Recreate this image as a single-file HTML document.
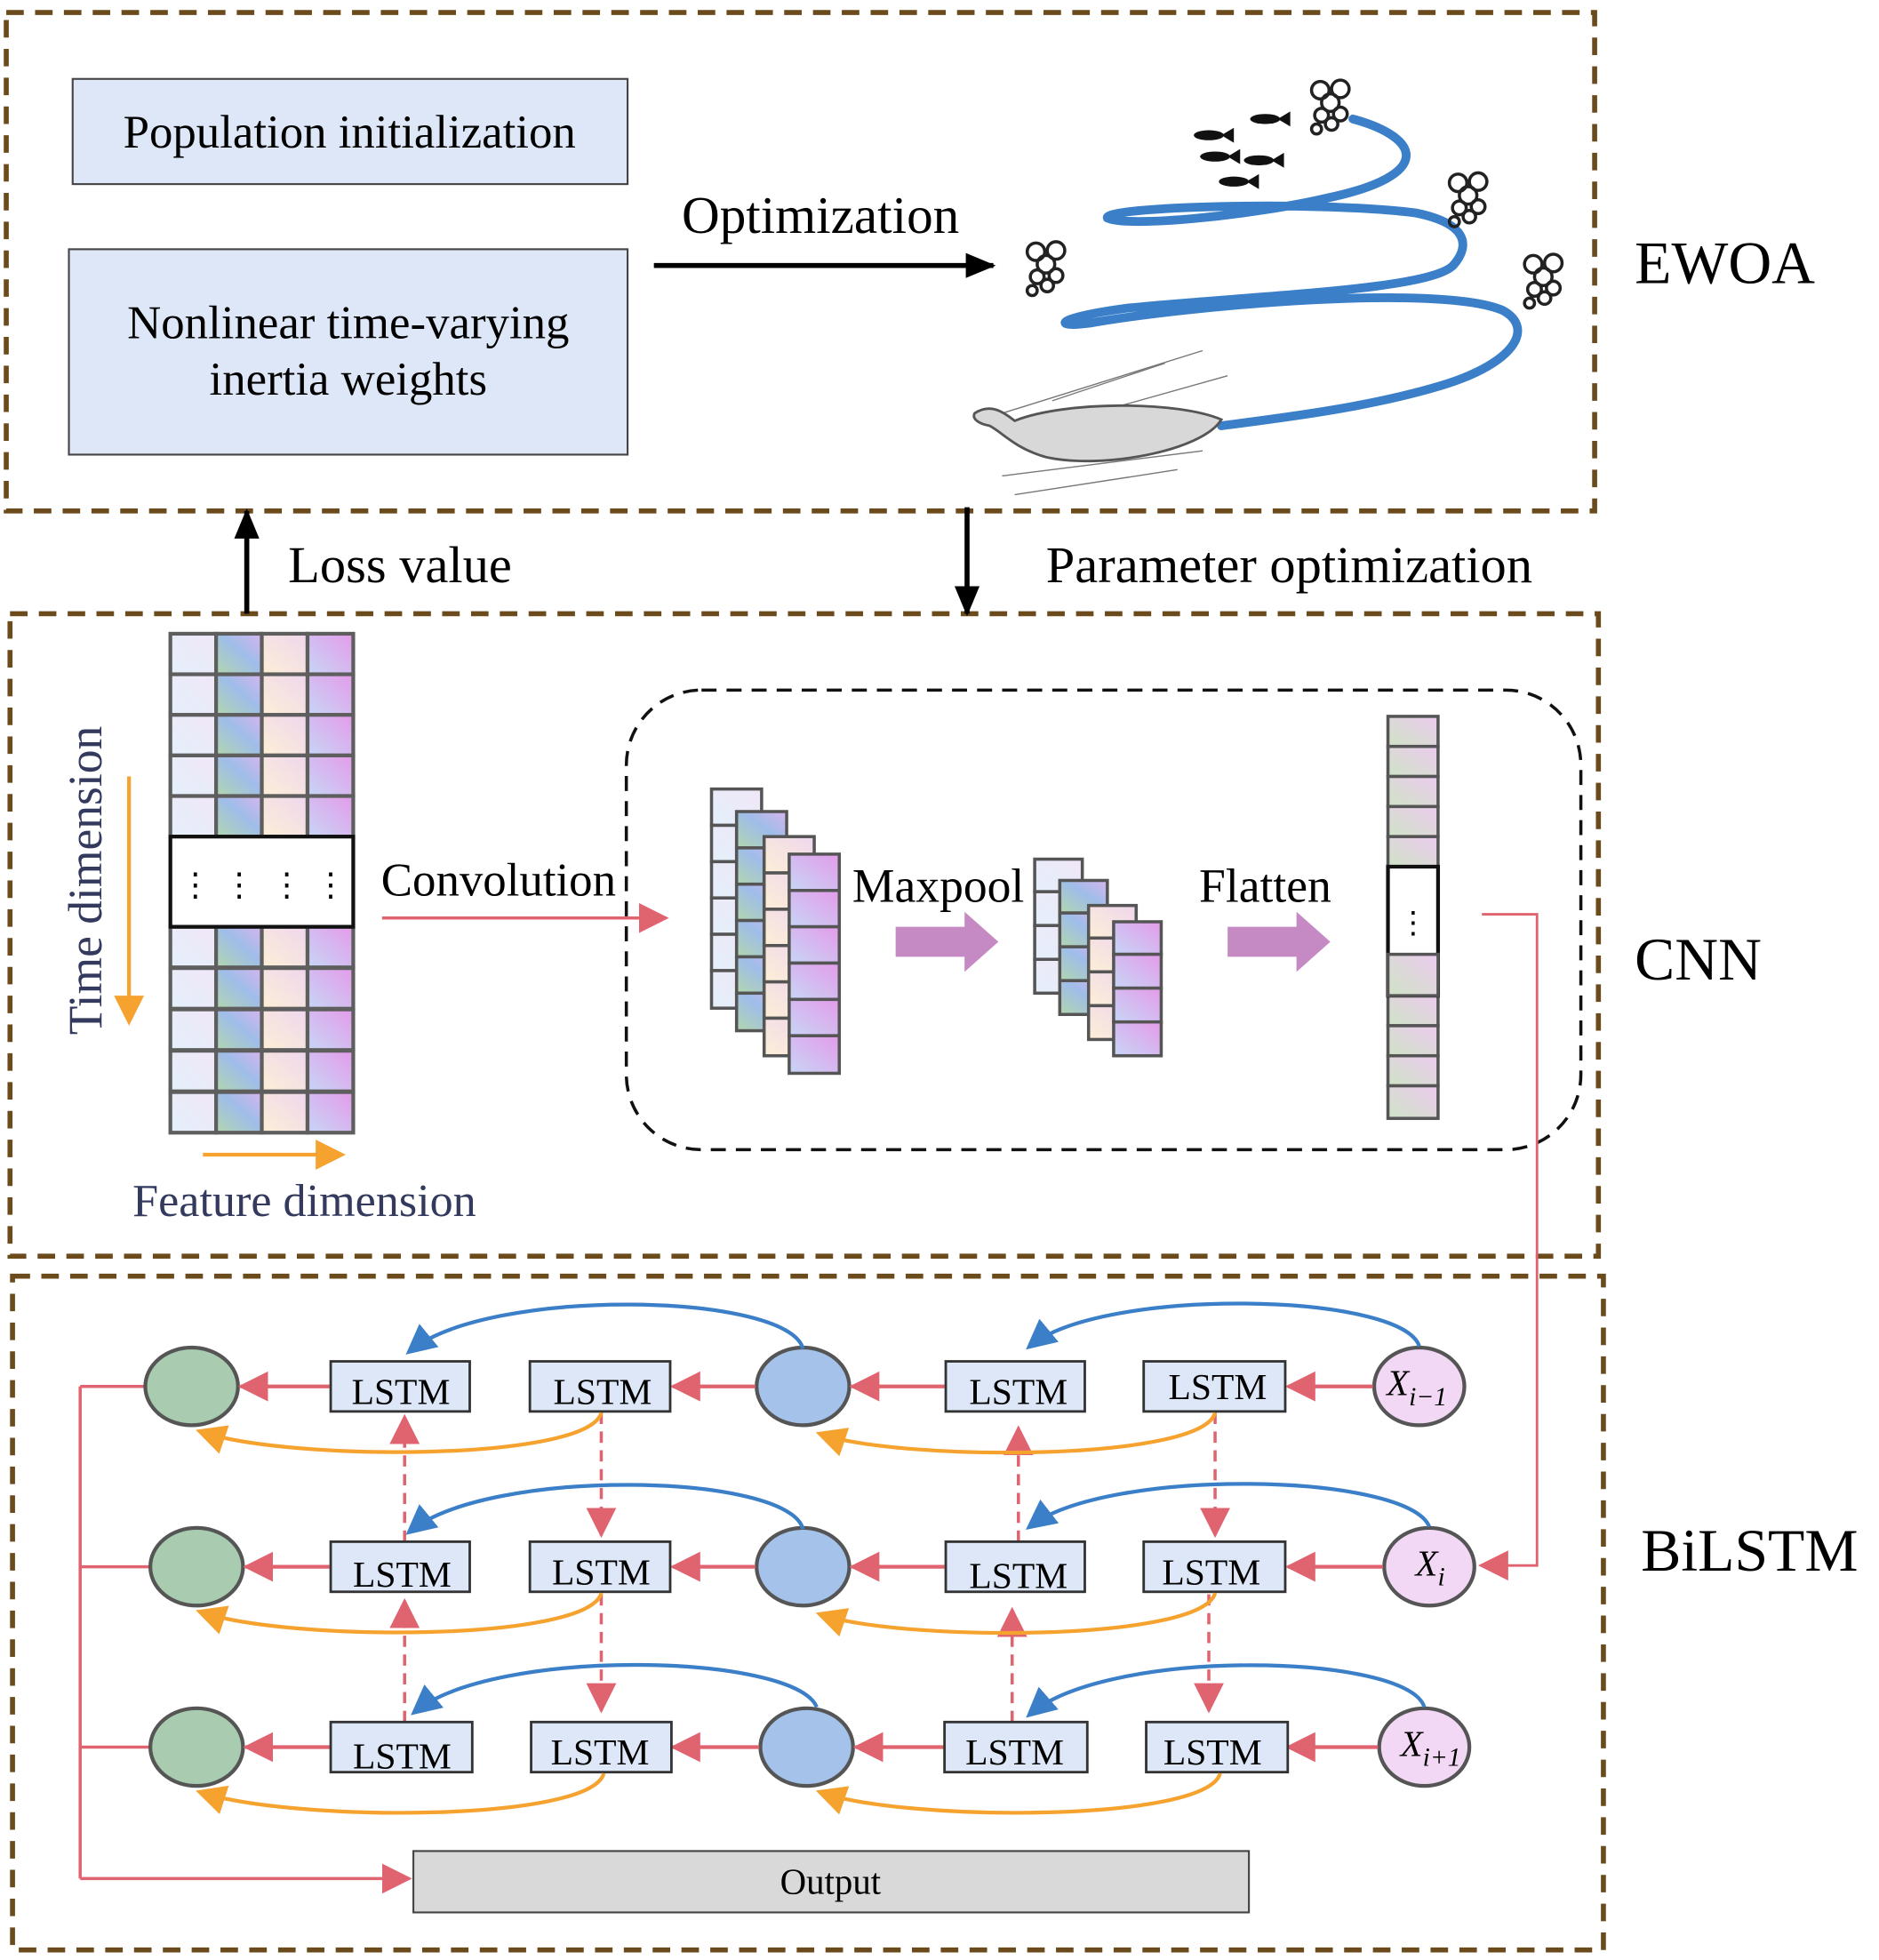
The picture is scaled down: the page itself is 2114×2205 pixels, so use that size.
<!DOCTYPE html>
<html><head><meta charset="utf-8"><style>html,body{margin:0;padding:0;background:#fff}svg{display:block}</style></head>
<body>
<svg xmlns="http://www.w3.org/2000/svg" width="2114" height="2205" viewBox="0 0 1500 1565" preserveAspectRatio="none" font-family="'Liberation Serif', serif">
<defs>
<linearGradient id="g1" x1="0" y1="1" x2="1" y2="0"><stop offset="0" stop-color="#e3f0fb"/><stop offset="1" stop-color="#f1e6f7"/></linearGradient>
<linearGradient id="g2" x1="0" y1="1" x2="1" y2="0"><stop offset="0" stop-color="#b2d6ae"/><stop offset=".55" stop-color="#9fbde9"/><stop offset="1" stop-color="#d6b5ee"/></linearGradient>
<linearGradient id="g3" x1="0" y1="1" x2="1" y2="0"><stop offset="0" stop-color="#fcefd6"/><stop offset="1" stop-color="#efd6ee"/></linearGradient>
<linearGradient id="g4" x1="0" y1="1" x2="1" y2="0"><stop offset="0" stop-color="#c7d6f6"/><stop offset="1" stop-color="#e49be9"/></linearGradient>
<linearGradient id="g5" x1="0" y1="1" x2="1" y2="0"><stop offset="0" stop-color="#cfe3c6"/><stop offset="1" stop-color="#eccbef"/></linearGradient>
<marker id="ar" markerUnits="userSpaceOnUse" markerWidth="26" markerHeight="24" refX="22" refY="12" orient="auto"><path d="M0,0 L24,12 L0,24 z" fill="#e06470"/></marker>
<marker id="ab" markerUnits="userSpaceOnUse" markerWidth="26" markerHeight="24" refX="22" refY="12" orient="auto"><path d="M0,2 L24,12 L0,22 z" fill="#000"/></marker>
<marker id="ao" markerUnits="userSpaceOnUse" markerWidth="26" markerHeight="24" refX="20" refY="12" orient="auto"><path d="M0,0 L24,12 L0,24 z" fill="#f5a22f"/></marker>
<marker id="abl" markerUnits="userSpaceOnUse" markerWidth="26" markerHeight="24" refX="20" refY="12" orient="auto"><path d="M0,0 L24,12 L0,24 z" fill="#3a7fc7"/></marker>
<g id="bub" fill="none" stroke="#222" stroke-width="2.5"><circle cx="-8" cy="-14" r="7"/><circle cx="8" cy="-15" r="7"/><circle cx="0" cy="-4" r="7"/><circle cx="-7" cy="6" r="5.5"/><circle cx="8" cy="5" r="5.5"/><circle cx="1" cy="13" r="5"/><circle cx="-11" cy="17" r="4"/></g>
<g id="fish" fill="#111"><ellipse cx="0" cy="0" rx="12" ry="4"/><path d="M10,0 L20,-6 L20,6 z"/></g>
</defs>

<g fill="none" stroke="#6b4a1c" stroke-width="4" stroke-dasharray="14,9">
<rect x="5" y="10" width="1268" height="398"/>
<rect x="8" y="490" width="1268" height="513"/>
<rect x="10" y="1019" width="1270" height="538"/>
</g>

<rect x="58" y="63" width="443" height="84" fill="#dde7f7" stroke="#444" stroke-width="1.5"/>
<text x="279" y="118" font-size="37.5" text-anchor="middle">Population initialization</text>
<rect x="55" y="199" width="446" height="164" fill="#dde7f7" stroke="#444" stroke-width="1.5"/>
<text x="278" y="270" font-size="37.5" text-anchor="middle">Nonlinear time-varying</text>
<text x="278" y="315" font-size="37.5" text-anchor="middle">inertia weights</text>
<text x="655" y="186" font-size="42" text-anchor="middle">Optimization</text>
<line x1="522" y1="212" x2="793" y2="212" stroke="#000" stroke-width="4" marker-end="url(#ab)"/>
<text x="1305" y="226" font-size="48">EWOA</text>

<path d="M1080,95 C1135,110 1145,140 1060,158 C1000,172 900,182 884,174 C880,165 1050,160 1130,170 C1170,178 1175,195 1160,212 C1140,232 1000,236 900,246 C840,254 840,262 870,258 C950,244 1150,226 1200,248 C1225,262 1210,290 1150,308 C1090,326 1020,334 975,340" fill="none" stroke="#3a7fc7" stroke-width="7" stroke-linecap="round"/>
<use href="#bub" x="835" y="215"/>
<use href="#bub" x="1062" y="86"/>
<use href="#bub" x="1172" y="160"/>
<use href="#bub" x="1232" y="225"/>
<use href="#fish" x="965" y="108"/><use href="#fish" x="1010" y="95"/><use href="#fish" x="970" y="125"/><use href="#fish" x="1005" y="128"/><use href="#fish" x="985" y="145"/>
<g stroke="#777" stroke-width="1">
<line x1="800" y1="330" x2="960" y2="280"/><line x1="820" y1="345" x2="980" y2="300"/><line x1="800" y1="380" x2="960" y2="360"/><line x1="810" y1="395" x2="940" y2="375"/><line x1="840" y1="320" x2="930" y2="290"/>
</g>
<path d="M778,330 C790,322 800,328 810,336 C850,320 940,320 975,335 C960,360 880,375 835,365 C810,358 800,345 790,340 C780,338 776,334 778,330 z" fill="#d8d8d8" stroke="#555" stroke-width="2"/>

<line x1="197" y1="490" x2="197" y2="408" stroke="#000" stroke-width="4" marker-end="url(#ab)"/>
<text x="230" y="465" font-size="41.5">Loss value</text>
<line x1="772" y1="405" x2="772" y2="490" stroke="#000" stroke-width="4" marker-end="url(#ab)"/>
<text x="835" y="465" font-size="41.5">Parameter optimization</text>

<g stroke="#5e5e5e" stroke-width="3">
<g id="rowtop">
<rect x="136" y="506" width="36.5" height="32.4" fill="url(#g1)"/><rect x="172.5" y="506" width="36.5" height="32.4" fill="url(#g2)"/><rect x="209" y="506" width="36.5" height="32.4" fill="url(#g3)"/><rect x="245.5" y="506" width="36.5" height="32.4" fill="url(#g4)"/>
</g>
<use href="#rowtop" y="32.4"/><use href="#rowtop" y="64.8"/><use href="#rowtop" y="97.2"/><use href="#rowtop" y="129.6"/>
<use href="#rowtop" y="234"/><use href="#rowtop" y="267"/><use href="#rowtop" y="300"/><use href="#rowtop" y="333"/><use href="#rowtop" y="366"/>
</g>
<rect x="136" y="668" width="146" height="72" fill="#fff" stroke="#111" stroke-width="3"/>
<g font-size="26" text-anchor="middle"><text x="156" y="715">⋮</text><text x="191" y="715">⋮</text><text x="229" y="715">⋮</text><text x="264" y="715">⋮</text></g>
<text transform="translate(81,703) rotate(-90)" font-size="38" fill="#333a5e" text-anchor="middle">Time dimension</text>
<line x1="103" y1="620" x2="103" y2="815" stroke="#f5a22f" stroke-width="3" marker-end="url(#ao)"/>
<line x1="162" y1="922" x2="272" y2="922" stroke="#f5a22f" stroke-width="3" marker-end="url(#ao)"/>
<text x="243" y="971" font-size="37" fill="#333a5e" text-anchor="middle">Feature dimension</text>
<text x="398" y="715" font-size="37.5" text-anchor="middle">Convolution</text>
<line x1="305" y1="733" x2="532" y2="733" stroke="#e06470" stroke-width="2.5" marker-end="url(#ar)"/>
<rect x="500" y="551" width="762" height="367" rx="60" fill="none" stroke="#111" stroke-width="2.5" stroke-dasharray="12,8"/>

<g stroke="#555" stroke-width="2.5">
<g><rect x="568" y="630" width="40" height="29" fill="url(#g1)"/><rect x="568" y="659" width="40" height="29" fill="url(#g1)"/><rect x="568" y="688" width="40" height="29" fill="url(#g1)"/><rect x="568" y="717" width="40" height="29" fill="url(#g1)"/><rect x="568" y="746" width="40" height="29" fill="url(#g1)"/><rect x="568" y="775" width="40" height="30" fill="url(#g1)"/></g>
<g transform="translate(20,18)"><rect x="568" y="630" width="40" height="29" fill="url(#g2)"/><rect x="568" y="659" width="40" height="29" fill="url(#g2)"/><rect x="568" y="688" width="40" height="29" fill="url(#g2)"/><rect x="568" y="717" width="40" height="29" fill="url(#g2)"/><rect x="568" y="746" width="40" height="29" fill="url(#g2)"/><rect x="568" y="775" width="40" height="30" fill="url(#g2)"/></g>
<g transform="translate(42,38)"><rect x="568" y="630" width="40" height="29" fill="url(#g3)"/><rect x="568" y="659" width="40" height="29" fill="url(#g3)"/><rect x="568" y="688" width="40" height="29" fill="url(#g3)"/><rect x="568" y="717" width="40" height="29" fill="url(#g3)"/><rect x="568" y="746" width="40" height="29" fill="url(#g3)"/><rect x="568" y="775" width="40" height="30" fill="url(#g3)"/></g>
<g transform="translate(62,52)"><rect x="568" y="630" width="40" height="29" fill="url(#g4)"/><rect x="568" y="659" width="40" height="29" fill="url(#g4)"/><rect x="568" y="688" width="40" height="29" fill="url(#g4)"/><rect x="568" y="717" width="40" height="29" fill="url(#g4)"/><rect x="568" y="746" width="40" height="29" fill="url(#g4)"/><rect x="568" y="775" width="40" height="30" fill="url(#g4)"/></g>
<g><rect x="826" y="686" width="38" height="26" fill="url(#g1)"/><rect x="826" y="712" width="38" height="27" fill="url(#g1)"/><rect x="826" y="739" width="38" height="27" fill="url(#g1)"/><rect x="826" y="766" width="38" height="27" fill="url(#g1)"/></g>
<g transform="translate(20,17)"><rect x="826" y="686" width="38" height="26" fill="url(#g2)"/><rect x="826" y="712" width="38" height="27" fill="url(#g2)"/><rect x="826" y="739" width="38" height="27" fill="url(#g2)"/><rect x="826" y="766" width="38" height="27" fill="url(#g2)"/></g>
<g transform="translate(43,37)"><rect x="826" y="686" width="38" height="26" fill="url(#g3)"/><rect x="826" y="712" width="38" height="27" fill="url(#g3)"/><rect x="826" y="739" width="38" height="27" fill="url(#g3)"/><rect x="826" y="766" width="38" height="27" fill="url(#g3)"/></g>
<g transform="translate(63,50)"><rect x="826" y="686" width="38" height="26" fill="url(#g4)"/><rect x="826" y="712" width="38" height="27" fill="url(#g4)"/><rect x="826" y="739" width="38" height="27" fill="url(#g4)"/><rect x="826" y="766" width="38" height="27" fill="url(#g4)"/></g>
<g fill="url(#g5)"><rect x="1108" y="572" width="40" height="24"/><rect x="1108" y="596" width="40" height="24"/><rect x="1108" y="620" width="40" height="24"/><rect x="1108" y="644" width="40" height="24"/><rect x="1108" y="668" width="40" height="24"/>
<rect x="1108" y="795" width="40" height="24"/><rect x="1108" y="819" width="40" height="24"/><rect x="1108" y="843" width="40" height="24"/><rect x="1108" y="867" width="40" height="26"/></g>
</g>
<rect x="1108" y="692" width="40" height="103" fill="#fff" stroke="#111" stroke-width="3"/>
<rect x="1108" y="762" width="40" height="33" fill="url(#g5)" stroke="#555" stroke-width="2.5"/>
<text x="1128" y="745" font-size="24" text-anchor="middle">⋮</text>
<text x="749" y="720" font-size="38" text-anchor="middle">Maxpool</text>
<path d="M715,740 L770,740 L770,728 L797,752 L770,776 L770,764 L715,764 z" fill="#c58ac4"/>
<text x="1010" y="720" font-size="38" text-anchor="middle">Flatten</text>
<path d="M980,740 L1035,740 L1035,728 L1062,752 L1035,776 L1035,764 L980,764 z" fill="#c58ac4"/>
<text x="1305" y="782" font-size="48">CNN</text>
<polyline points="1183,730 1227,730 1227,1250 1182,1250" fill="none" stroke="#e06470" stroke-width="2" marker-end="url(#ar)"/>

<text x="1310" y="1254" font-size="48">BiLSTM</text>
<g fill="none" stroke="#e06470" stroke-width="2.5">
<line x1="64" y1="1107" x2="64" y2="1500"/>
<line x1="64" y1="1107" x2="116" y2="1107"/><line x1="64" y1="1251" x2="120" y2="1251"/><line x1="64" y1="1395" x2="120" y2="1395"/>
<line x1="64" y1="1500" x2="327" y2="1500" marker-end="url(#ar)"/>
<g stroke-dasharray="9,6">
<line x1="480" y1="1128" x2="480" y2="1226" marker-end="url(#ar)"/>
<line x1="970" y1="1128" x2="970" y2="1226" marker-end="url(#ar)"/>
<line x1="323" y1="1231" x2="323" y2="1131" marker-end="url(#ar)"/>
<line x1="813" y1="1231" x2="813" y2="1140" marker-end="url(#ar)"/>
<line x1="480" y1="1273" x2="480" y2="1366" marker-end="url(#ar)"/>
<line x1="965" y1="1273" x2="965" y2="1366" marker-end="url(#ar)"/>
<line x1="323" y1="1375" x2="323" y2="1278" marker-end="url(#ar)"/>
<line x1="808" y1="1375" x2="808" y2="1285" marker-end="url(#ar)"/>
</g>
</g>
<rect x="330" y="1478" width="667" height="49" fill="#d9d9d9" stroke="#444" stroke-width="1.5"/>
<text x="663" y="1512" font-size="29" text-anchor="middle">Output</text>

<g transform="translate(0,1107)">
<ellipse cx="153" cy="0" rx="37" ry="31" fill="#a9cbb0" stroke="#555" stroke-width="3"/>
<ellipse cx="641" cy="0" rx="37" ry="31" fill="#a4c2ea" stroke="#555" stroke-width="3"/>
<ellipse cx="1133" cy="0" rx="36" ry="31" fill="#f2d8f5" stroke="#555" stroke-width="3"/>
<g stroke="#e06470" stroke-width="3"><line x1="263" y1="0" x2="192" y2="0" marker-end="url(#ar)"/><line x1="603" y1="0" x2="537" y2="0" marker-end="url(#ar)"/><line x1="754" y1="0" x2="680" y2="0" marker-end="url(#ar)"/><line x1="1096" y1="0" x2="1028" y2="0" marker-end="url(#ar)"/></g>
<g fill="#dde7f7" stroke="#333" stroke-width="2"><rect x="264" y="-20" width="111" height="40"/><rect x="423" y="-20" width="112" height="40"/><rect x="755" y="-20" width="111" height="40"/><rect x="913" y="-20" width="113" height="40"/></g>
<g fill="none" stroke-width="3"><path d="M1133,-32 C1120,-75 880,-80 822,-32" stroke="#3a7fc7" marker-end="url(#abl)"/><path d="M641,-30 C630,-75 390,-80 327,-28" stroke="#3a7fc7" marker-end="url(#abl)"/>
<path d="M970,21 C960,60 720,60 655,38" stroke="#f5a22f" marker-end="url(#ao)"/><path d="M480,21 C470,60 230,60 160,36" stroke="#f5a22f" marker-end="url(#ao)"/></g>
</g>
<g transform="translate(4,1251)">
<ellipse cx="153" cy="0" rx="37" ry="31" fill="#a9cbb0" stroke="#555" stroke-width="3"/>
<ellipse cx="637" cy="0" rx="37" ry="31" fill="#a4c2ea" stroke="#555" stroke-width="3"/>
<ellipse cx="1137" cy="0" rx="36" ry="31" fill="#f2d8f5" stroke="#555" stroke-width="3"/>
<g stroke="#e06470" stroke-width="3"><line x1="259" y1="0" x2="192" y2="0" marker-end="url(#ar)"/><line x1="599" y1="0" x2="533" y2="0" marker-end="url(#ar)"/><line x1="750" y1="0" x2="676" y2="0" marker-end="url(#ar)"/><line x1="1100" y1="0" x2="1024" y2="0" marker-end="url(#ar)"/></g>
<g fill="#dde7f7" stroke="#333" stroke-width="2"><rect x="260" y="-20" width="111" height="40"/><rect x="419" y="-20" width="112" height="40"/><rect x="751" y="-20" width="111" height="40"/><rect x="909" y="-20" width="113" height="40"/></g>
<g fill="none" stroke-width="3"><path d="M1137,-32 C1120,-75 880,-80 818,-32" stroke="#3a7fc7" marker-end="url(#abl)"/><path d="M637,-30 C626,-75 386,-80 323,-28" stroke="#3a7fc7" marker-end="url(#abl)"/>
<path d="M966,21 C956,60 716,60 651,38" stroke="#f5a22f" marker-end="url(#ao)"/><path d="M476,21 C466,60 226,60 156,36" stroke="#f5a22f" marker-end="url(#ao)"/></g>
</g>
<g transform="translate(4,1395)">
<ellipse cx="153" cy="0" rx="37" ry="31" fill="#a9cbb0" stroke="#555" stroke-width="3"/>
<ellipse cx="640" cy="0" rx="37" ry="31" fill="#a4c2ea" stroke="#555" stroke-width="3"/>
<ellipse cx="1133" cy="0" rx="36" ry="31" fill="#f2d8f5" stroke="#555" stroke-width="3"/>
<g stroke="#e06470" stroke-width="3"><line x1="260" y1="0" x2="192" y2="0" marker-end="url(#ar)"/><line x1="602" y1="0" x2="533" y2="0" marker-end="url(#ar)"/><line x1="750" y1="0" x2="679" y2="0" marker-end="url(#ar)"/><line x1="1096" y1="0" x2="1024" y2="0" marker-end="url(#ar)"/></g>
<g fill="#dde7f7" stroke="#333" stroke-width="2"><rect x="260" y="-20" width="113" height="40"/><rect x="420" y="-20" width="112" height="40"/><rect x="750" y="-20" width="114" height="40"/><rect x="911" y="-20" width="113" height="40"/></g>
<g fill="none" stroke-width="3"><path d="M1133,-32 C1120,-75 880,-80 818,-26" stroke="#3a7fc7" marker-end="url(#abl)"/><path d="M648,-32 C630,-75 390,-80 327,-28" stroke="#3a7fc7" marker-end="url(#abl)"/>
<path d="M970,21 C960,60 720,60 651,36" stroke="#f5a22f" marker-end="url(#ao)"/><path d="M478,21 C468,60 230,60 156,36" stroke="#f5a22f" marker-end="url(#ao)"/></g>
</g>
<g font-size="29.5" text-anchor="middle">
<text x="320" y="1121">LSTM</text><text x="481" y="1121">LSTM</text><text x="813" y="1121">LSTM</text><text x="972" y="1117">LSTM</text>
<text x="321" y="1267">LSTM</text><text x="480" y="1265">LSTM</text><text x="813" y="1268">LSTM</text><text x="967" y="1265">LSTM</text>
<text x="321" y="1412">LSTM</text><text x="479" y="1409">LSTM</text><text x="810" y="1409">LSTM</text><text x="968" y="1409">LSTM</text>
</g>
<g font-size="29" font-style="italic">
<text x="1107" y="1114">X<tspan font-size="21" dy="8">i−1</tspan></text>
<text x="1130" y="1258">X<tspan font-size="21" dy="8">i</tspan></text>
<text x="1118" y="1402">X<tspan font-size="21" dy="8">i+1</tspan></text>
</g>
</svg>
</body></html>
